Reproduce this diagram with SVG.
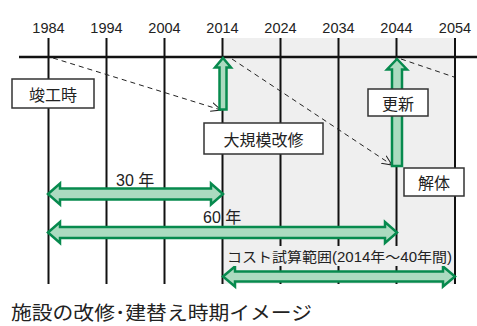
<svg xmlns="http://www.w3.org/2000/svg" width="477" height="326" viewBox="0 0 477 326">
<style>
.yr{font-family:"Liberation Sans","Noto Sans CJK JP",sans-serif;font-size:14.5px;fill:#222;text-anchor:middle}
.vl{stroke:#111;stroke-width:2}
.box rect{fill:#fff;stroke:#333;stroke-width:1.5}
.box text{font-family:"Noto Sans CJK JP",sans-serif;font-size:16px;fill:#222;text-anchor:middle;dominant-baseline:central}
.lbl{font-family:"Liberation Sans","Noto Sans CJK JP",sans-serif;font-size:14px;fill:#222}
.big{font-size:16px}
.dash{stroke:#222;stroke-width:1;stroke-dasharray:5 4;fill:none}
.ga{fill:#acdbc0;stroke:#078a4e;stroke-width:2.5;stroke-linejoin:miter}
</style>
<defs>
<marker id="oa" viewBox="0 0 10 10" refX="10" refY="5" markerWidth="10" markerHeight="10" markerUnits="userSpaceOnUse" orient="auto">
<polyline points="0,0.5 10,5 0,9.5" fill="none" stroke="#222" stroke-width="1"/>
</marker>
</defs>
<rect x="0" y="0" width="477" height="326" fill="#fff"/>
<rect x="222.5" y="38" width="233" height="246" fill="#efefef"/>
<g id="axis">
<line class="vl" x1="48.5" y1="38" x2="48.5" y2="284"/>
<line class="vl" x1="106.5" y1="38" x2="106.5" y2="284"/>
<line class="vl" x1="164.5" y1="38" x2="164.5" y2="284"/>
<line class="vl" x1="222.5" y1="38" x2="222.5" y2="284"/>
<line class="vl" x1="280.5" y1="38" x2="280.5" y2="284"/>
<line class="vl" x1="338.5" y1="38" x2="338.5" y2="284"/>
<line class="vl" x1="396.5" y1="38" x2="396.5" y2="284"/>
<line class="vl" x1="455" y1="38" x2="455" y2="284"/>
<line x1="19" y1="57" x2="477" y2="57" stroke="#111" stroke-width="2.5"/>
<text class="yr" x="48.5" y="33">1984</text>
<text class="yr" x="106.5" y="33">1994</text>
<text class="yr" x="164.5" y="33">2004</text>
<text class="yr" x="222.5" y="33">2014</text>
<text class="yr" x="280.5" y="33">2024</text>
<text class="yr" x="338.5" y="33">2034</text>
<text class="yr" x="396.5" y="33">2044</text>
<text class="yr" x="455" y="33">2054</text>
</g>
<g id="connectors">
<line class="dash" x1="53" y1="58" x2="221" y2="110" marker-end="url(#oa)"/>
<line class="dash" x1="232" y1="59" x2="392" y2="165" marker-end="url(#oa)"/>
<line class="dash" x1="401" y1="59" x2="454" y2="77"/>
<polygon class="ga" points="223,58 231,67.5 226.5,67.5 226.5,109.5 219.5,109.5 219.5,67.5 215,67.5"/>
<polygon class="ga" points="397,59 407,69.5 402,69.5 402,166 392,166 392,69.5 387,69.5"/>
<polygon class="ga" points="48,194 60,183.5 60,188.5 211,188.5 211,183.5 223,194 211,204.5 211,199.5 60,199.5 60,204.5"/>
<polygon class="ga" points="48,232.5 60,222 60,227 385,227 385,222 397,232.5 385,243 385,238 60,238 60,243"/>
<polygon class="ga" points="223,276.5 235,266.5 235,271.5 443,271.5 443,266.5 455,276.5 443,286.5 443,281.5 235,281.5 235,286.5"/>
</g>
<g id="label30"><text class="lbl big" x="116" y="186">30 年</text></g>
<g id="label60"><text class="lbl big" x="203" y="223">60 年</text></g>
<g id="labelcost">
<rect x="224" y="246" width="229" height="20" fill="#efefef"/>
<text class="lbl" x="227" y="262" textLength="225" lengthAdjust="spacingAndGlyphs">コスト試算範囲(2014年～40年間)</text>
</g>
<g id="n1" class="box"><rect x="12" y="79" width="82" height="29"/><text x="53" y="93.5">竣工時</text></g>
<g id="n2" class="box"><rect x="204" y="123" width="119" height="31"/><text x="263.5" y="138.5">大規模改修</text></g>
<g id="n3" class="box"><rect x="368" y="89" width="60" height="27"/><text x="398" y="102.5">更新</text></g>
<g id="n4" class="box"><rect x="404" y="168" width="60" height="28"/><text x="434" y="182">解体</text></g>
<g id="title"><text x="11" y="320" font-family="Noto Sans CJK JP, sans-serif" font-size="19" fill="#222" textLength="301" lengthAdjust="spacingAndGlyphs">施設の改修･建替え時期イメージ</text></g>
</svg>
